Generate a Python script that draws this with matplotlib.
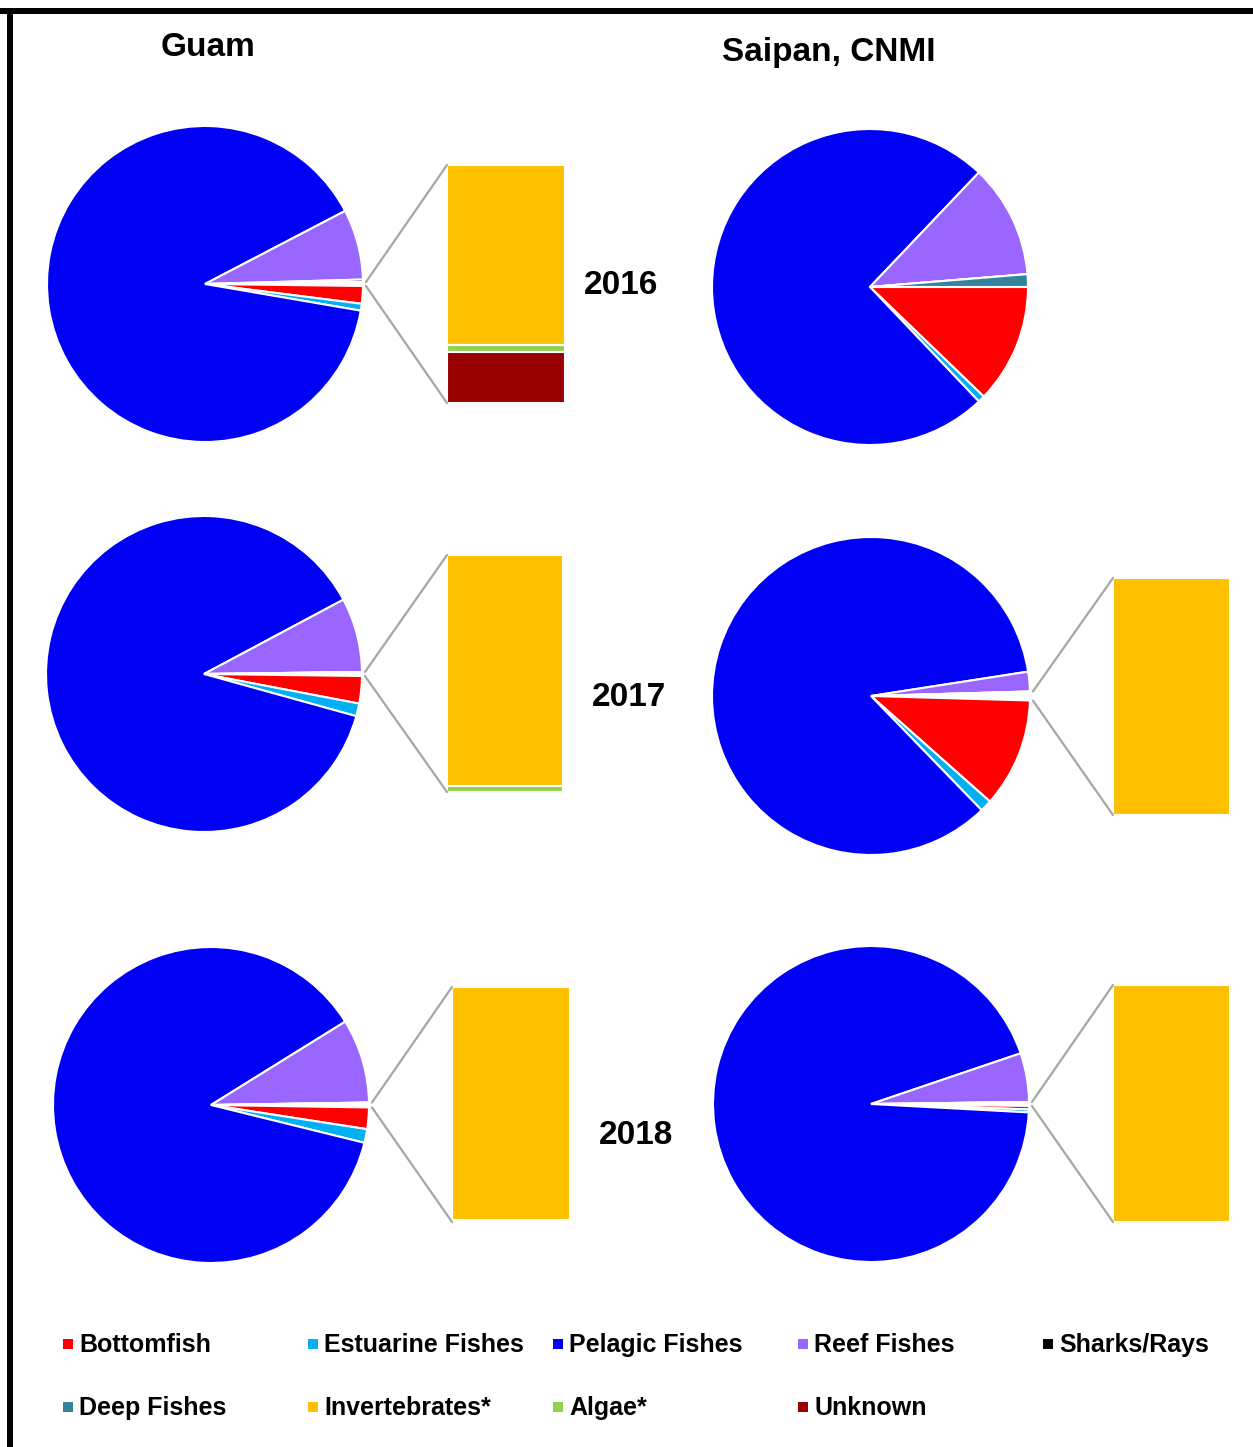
"""
Catch composition pies for Guam and Saipan (CNMI), 2016-2018.
Small categories (invertebrates, algae, unknown) are pulled out of each pie
into a stacked "bar of pie" next to it, like the Excel original.
"""

import numpy as np
import matplotlib.pyplot as plt
from matplotlib import font_manager
from matplotlib.patches import Rectangle

W, H = 1253, 1447

# ─── data (percent of catch) ─────────────────────────────────────────────────

MAIN_CATS = ["Bottomfish", "Estuarine Fishes", "Pelagic Fishes",
             "Reef Fishes", "Sharks/Rays", "Deep Fishes"]
OTHER_CATS = ["Invertebrates*", "Algae*", "Unknown"]

guam_2016_main = [1.8, 0.7, 89.6, 7.2, 0.25, 0.0]
guam_2016_other = [0.30, 0.012, 0.085]
saipan_2016_main = [12.2, 0.7, 74.2, 11.6, 0.0, 1.3]
saipan_2016_other = [0.0, 0.0, 0.0]

guam_2017_main = [2.8, 1.3, 87.9, 7.6, 0.0, 0.0]
guam_2017_other = [0.39, 0.01, 0.0]
saipan_2017_main = [11.1, 1.2, 84.8, 2.0, 0.0, 0.0]
saipan_2017_other = [0.9, 0.0, 0.0]

guam_2018_main = [2.2, 1.4, 87.3, 8.6, 0.0, 0.0]
guam_2018_other = [0.49, 0.004, 0.0]
saipan_2018_main = [0.35, 0.3, 93.95, 5.0, 0.0, 0.0]
saipan_2018_other = [0.4, 0.0, 0.0]

YEARS = ["2016", "2017", "2018"]
SITES = ["Guam", "Saipan, CNMI"]

MAIN_COLORS = ["#ff0000", "#00b0f0", "#0000f5", "#9966ff", "#000000", "#31859c"]
OTHER_COLORS = ["#ffc000", "#92d050", "#990000"]

# ─── layout (image pixels, y measured from the top) ──────────────────────────

# (pie centre x, centre y, radius, bar box or None)
PANELS = [
    (guam_2016_main, guam_2016_other, (205, 284, 158), (447, 565, 165, 403)),
    (saipan_2016_main, saipan_2016_other, (870, 287, 158), None),
    (guam_2017_main, guam_2017_other, (204, 674, 158), (447, 563, 555, 792)),
    (saipan_2017_main, saipan_2017_other, (871, 696, 159), (1113, 1230, 578, 815)),
    (guam_2018_main, guam_2018_other, (211, 1105, 158), (452, 570, 987, 1222)),
    (saipan_2018_main, saipan_2018_other, (871, 1104, 158), (1113, 1230, 985, 1222)),
]
YEAR_POS = [(621, 285), (629, 697), (636, 1136)]
SITE_POS = [(208, 48), (829, 53)]

names = {f.name for f in font_manager.fontManager.ttflist}
NARROW = "Liberation Sans Narrow" in names
FONT = "Liberation Sans Narrow" if NARROW else "Liberation Sans"
plt.rcParams["font.family"] = FONT
TITLE_SIZE = 29 if NARROW else 24
LEGEND_SIZE = 22 if NARROW else 18


def Y(y):
    return H - y


fig = plt.figure(figsize=(W / 100, H / 100), dpi=100, facecolor="white")
ax = fig.add_axes([0, 0, 1, 1])

for main, other, (cx, cy, r), bar in PANELS:
    other_sum = sum(other)
    total = other_sum + sum(main)
    half = other_sum / total * 180.0
    ax.pie([other_sum] + main, colors=["white"] + MAIN_COLORS,
           center=(cx, Y(cy)), radius=r, startangle=half, counterclock=False,
           wedgeprops=dict(edgecolor="white", linewidth=1.5), frame=True)
    if bar is None:
        continue

    # stacked bar of the pulled-out categories, top to bottom
    x0, x1, ytop, ybot = bar
    bh = ybot - ytop
    top = Y(ytop)
    for v, c in zip(other, OTHER_COLORS):
        h = bh * v / other_sum
        if h <= 0:
            continue
        ax.bar((x0 + x1) / 2, h, bottom=top - h, width=x1 - x0, color=c,
               edgecolor="white", linewidth=1.5)
        top -= h

    # connector lines from the pulled wedge to the bar corners
    for ang, yb in [(half, ytop), (-half, ybot)]:
        a = np.deg2rad(ang)
        ax.plot([cx + (r + 3) * np.cos(a), x0], [Y(cy) + (r + 3) * np.sin(a), Y(yb)],
                color="#a6a6a6", lw=1.6, solid_capstyle="round")

for name, (x, y) in zip(SITES, SITE_POS):
    ax.text(x, Y(y), name, ha="center", va="center", fontsize=TITLE_SIZE,
            fontweight="bold")
for yr, (x, y) in zip(YEARS, YEAR_POS):
    ax.text(x, Y(y), yr, ha="center", va="center", fontsize=TITLE_SIZE,
            fontweight="bold")

# legend, laid out in two rows of five columns
legend_items = list(zip(MAIN_CATS, MAIN_COLORS))[:5] + \
    [(MAIN_CATS[5], MAIN_COLORS[5])] + list(zip(OTHER_CATS, OTHER_COLORS))
for i, (lab, col) in enumerate(legend_items):
    row, colno = divmod(i, 5)
    mx = 68 + 245 * colno
    my = Y(1345 + 63 * row)
    ax.scatter([mx], [my + 1], marker="s", s=55, color=col, linewidths=0)
    ax.text(mx + 11, my, lab, ha="left", va="center", fontsize=LEGEND_SIZE,
            fontweight="bold")

# frame lines on the top and left edges
ax.add_patch(Rectangle((0, Y(14)), W, 6, color="black", lw=0))
ax.add_patch(Rectangle((7, 0), 6, Y(8), color="black", lw=0))

ax.set_xlim(0, W)
ax.set_ylim(0, H)
ax.set_aspect("equal")
ax.axis("off")

fig.savefig("out.png", dpi=100, facecolor="white")
